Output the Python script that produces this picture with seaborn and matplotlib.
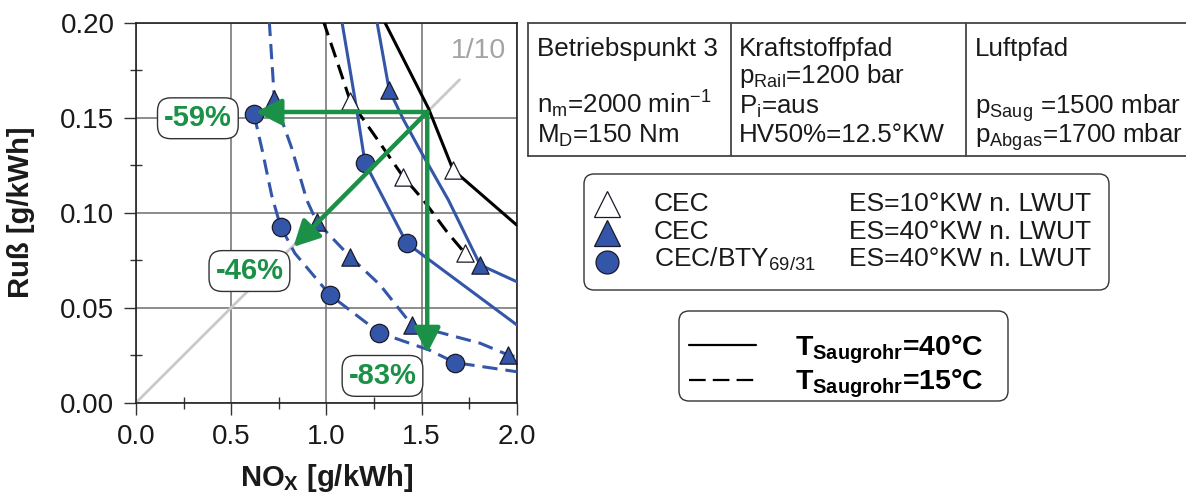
import numpy as np
import pandas as pd
import matplotlib
matplotlib.use("Agg")
import matplotlib.pyplot as plt
import seaborn as sns
from matplotlib.patches import FancyBboxPatch
from matplotlib.lines import Line2D
from matplotlib.ticker import MultipleLocator, FormatStrFormatter

# ---------------- data ----------------
# black solid: CEC, ES=10°KW, T=40°C
bs_x = [1.303, 1.536, 1.666, 2.0]
bs_y = [0.201, 0.155, 0.1225, 0.0935]
bs_m = [False, False, True, False]
# black dashed: CEC, ES=10°KW, T=15°C
bd_x = [0.984, 1.055, 1.125, 1.265, 1.403, 1.51, 1.633, 1.729]
bd_y = [0.201, 0.180, 0.159, 0.139, 0.119, 0.1066, 0.090, 0.0786]
bd_m = [False, False, True, False, True, False, False, True]
# blue solid, triangles: CEC, ES=40°KW, T=40°C
ts_x = [1.265, 1.33, 1.405, 1.492, 1.641, 1.808, 2.0]
ts_y = [0.201, 0.1646, 0.149, 0.133, 0.1067, 0.0725, 0.0637]
ts_m = [False, True, False, False, False, True, False]
# blue dashed, triangles: CEC, ES=40°KW, T=15°C
td_x = [0.70, 0.727, 0.818, 0.897, 0.949, 1.125, 1.282, 1.449, 1.808, 1.956, 2.0]
td_y = [0.201, 0.1597, 0.134, 0.1067, 0.0953, 0.0768, 0.062, 0.0409, 0.0313, 0.0251, 0.0240]
td_m = [False, True, False, False, True, True, False, True, False, True, False]
# blue solid, circles: CEC/BTY, ES=40°KW, T=40°C
cs_x = [1.081, 1.160, 1.203, 1.422, 2.0]
cs_y = [0.201, 0.154, 0.1263, 0.084, 0.041]
cs_m = [False, False, True, True, False]
# blue dashed, circles: CEC/BTY, ES=40°KW, T=15°C
cd_x = [0.62, 0.665, 0.713, 0.76, 0.835, 1.019, 1.279, 1.541, 1.676, 2.0]
cd_y = [0.1518, 0.132, 0.109, 0.0926, 0.0786, 0.0567, 0.0368, 0.0277, 0.0211, 0.0163]
cd_m = [True, False, False, True, False, True, True, False, True, False]

ratio_x = [0.0, 1.70]          # 1/10 line
ratio_y = [0.0, 0.170]

arrow_start = (1.53, 0.153)
arrow_end_x = [0.63, 0.827, 1.53]
arrow_end_y = [0.153, 0.082, 0.026]
pct_labels = ["-59%", "-46%", "-83%"]
pct_x = [0.325, 0.596, 1.295]
pct_y = [0.1497, 0.0693, 0.0141]

x_ticks = [0.0, 0.5, 1.0, 1.5, 2.0]
y_ticks = [0.00, 0.05, 0.10, 0.15, 0.20]

# ---------------- style ----------------
sns.set_style("white")
plt.rcParams["font.family"] = ["Liberation Sans", "DejaVu Sans"]
plt.rcParams["mathtext.fontset"] = "custom"
plt.rcParams["mathtext.rm"] = "Liberation Sans"
plt.rcParams["mathtext.it"] = "Liberation Sans:italic"
plt.rcParams["mathtext.bf"] = "Liberation Sans:bold"

BLUE = "#3456a9"
GREEN = "#1b9147"
EDGE = "#1a1a2a"
DASH = (0, (5, 2.6))

fig = plt.figure(figsize=(11.86, 4.95), dpi=100)
W, H = 1186, 495
ax = fig.add_axes([136 / W, (H - 402.7) / H, 380.7 / W, 380 / H])


def df_of(x, y, m):
    return pd.DataFrame({"nox": x, "soot": y, "marked": m})


series = [
    (df_of(bs_x, bs_y, bs_m), "black", "-", "^", "white"),
    (df_of(bd_x, bd_y, bd_m), "black", DASH, "^", "white"),
    (df_of(ts_x, ts_y, ts_m), BLUE, "-", "^", BLUE),
    (df_of(td_x, td_y, td_m), BLUE, DASH, "^", BLUE),
    (df_of(cs_x, cs_y, cs_m), BLUE, "-", "o", BLUE),
    (df_of(cd_x, cd_y, cd_m), BLUE, DASH, "o", BLUE),
]

# 1/10 line
sns.lineplot(x=ratio_x, y=ratio_y, ax=ax, color="#c9c9c9", lw=2.0,
             sort=False, estimator=None, legend=False, zorder=2)

for d, col, ls, mk, fc in series:
    sns.lineplot(data=d, x="nox", y="soot", ax=ax, color=col, linestyle=ls,
                 lw=2.2, sort=False, estimator=None, legend=False, zorder=3)
for d, col, ls, mk, fc in series:
    dm = d[d["marked"]]
    size = 155 if mk == "^" else 175
    sns.scatterplot(data=dm, x="nox", y="soot", ax=ax, marker=mk, s=size,
                    color=fc, edgecolor=EDGE, linewidth=0.9, legend=False, zorder=4)

# arrows
for ex, ey in zip(arrow_end_x, arrow_end_y):
    ax.annotate("", xy=(ex, ey), xytext=arrow_start,
                arrowprops=dict(arrowstyle="-|>,head_length=0.62,head_width=0.32",
                                color=GREEN, lw=3.2, mutation_scale=25,
                                shrinkA=0, shrinkB=0), zorder=5)

for lab, px, py in zip(pct_labels, pct_x, pct_y):
    ax.text(px, py, lab, color=GREEN, fontsize=21, fontweight="bold",
            ha="center", va="center", zorder=7,
            bbox=dict(boxstyle="round,pad=0.22,rounding_size=0.45",
                      fc="white", ec="#333333", lw=1.0))

ax.text(1.797, 0.185, "1/10", color="#a3a3a3", fontsize=20.5,
        ha="center", va="center", zorder=2)

# axes formatting
ax.set_xlim(0, 2)
ax.set_ylim(0, 0.2)
ax.set_xticks(x_ticks)
ax.set_yticks(y_ticks)
ax.xaxis.set_minor_locator(MultipleLocator(0.25))
ax.yaxis.set_minor_locator(MultipleLocator(0.025))
ax.xaxis.set_major_formatter(FormatStrFormatter("%.1f"))
ax.yaxis.set_major_formatter(FormatStrFormatter("%.2f"))
ax.tick_params(which="major", direction="out", length=8.5, width=1.0,
               color="#333333", labelsize=20, pad=7, labelcolor="#1a1a1a")
ax.tick_params(which="minor", direction="inout", length=8, width=1.0,
               color="#333333")
ax.tick_params(axis="x", which="both", bottom=True)
ax.tick_params(axis="y", which="both", left=True)
ax.grid(True, which="major", color="#6e6e6e", lw=1.1, zorder=0)
ax.set_axisbelow(True)
for sp in ax.spines.values():
    sp.set_color("#222222")
    sp.set_linewidth(1.2)

ax.set_ylabel("Ruß [g/kWh]", fontsize=21, fontweight="bold", color="#1a1a1a")
ax.set_xlabel(r"NO$_{\mathbf{X}}$ [g/kWh]", fontsize=21, fontweight="bold",
              color="#1a1a1a")
ax.yaxis.set_label_coords(-0.265, 0.5)
ax.xaxis.set_label_coords(0.5, -0.155)

# ---------------- annotations in pixel space ----------------
T = fig.dpi_scale_trans


def P(x, y):
    return (x / 100.0, (H - y) / 100.0)


def hline(x0, x1, y, **kw):
    fig.add_artist(Line2D([x0 / 100, x1 / 100], [(H - y) / 100] * 2, transform=T, **kw))


def vline(x, y0, y1, **kw):
    fig.add_artist(Line2D([x / 100] * 2, [(H - y0) / 100, (H - y1) / 100], transform=T, **kw))


tbl = dict(color="#444444", lw=1.3)
hline(528.4, 1186, 22.7, **tbl)
hline(528.4, 1186, 155.5, **tbl)
vline(528.4, 22.7, 155.5, **tbl)
vline(731, 22.7, 155.5, **tbl)
vline(966, 22.7, 155.5, **tbl)

TF = 18.7
TC = "#1a1a1a"
table_text = [
    (537, 55.5, "Betriebspunkt 3"),
    (537, 113.5, r"n$_{\mathrm{m}}$=2000 min$^{\mathrm{-1}}$"),
    (537, 142.5, r"M$_{\mathrm{D}}$=150 Nm"),
    (739, 55.5, "Kraftstoffpfad"),
    (739, 82.5, r"p$_{\mathrm{Rail}}$=1200 bar"),
    (739, 113.5, r"P$_{\mathrm{i}}$=aus"),
    (739, 142.5, "HV50%=12.5°KW"),
    (975, 55.5, "Luftpfad"),
    (975, 113.5, r"p$_{\mathrm{Saug}}$ =1500 mbar"),
    (975, 142.5, r"p$_{\mathrm{Abgas}}$=1700 mbar"),
]
for x, y, s in table_text:
    fig.text(*P(x, y), s, transform=T, fontsize=TF, color=TC,
             ha="left", va="baseline")

# legend 1
x0, y0 = P(584, 290)
fig.add_artist(FancyBboxPatch((x0, y0), 5.25, 1.16, transform=T,
                              boxstyle="round,pad=0,rounding_size=0.1",
                              fc="white", ec="#333333", lw=1.0))
leg_rows = [
    (204, 211, "^", "white", 19, "CEC", "ES=10°KW n. LWUT"),
    (233, 239, "^", BLUE, 19, "CEC", "ES=40°KW n. LWUT"),
    (262, 266.5, "o", BLUE, 16.5, r"CEC/BTY$_{\mathrm{69/31}}$", "ES=40°KW n. LWUT"),
]
for my, by, mk, fc, ms, a, b in leg_rows:
    fig.add_artist(Line2D([607 / 100], [(H - my) / 100], transform=T, marker=mk,
                          ms=ms, mfc=fc, mec=EDGE, mew=0.9, ls="none"))
    fig.text(*P(654, by), a, transform=T, fontsize=19, color=TC, va="baseline")
    fig.text(*P(849, by), b, transform=T, fontsize=19, color=TC, va="baseline")

# legend 2
x0, y0 = P(679, 401)
fig.add_artist(FancyBboxPatch((x0, y0), 3.29, 0.90, transform=T,
                              boxstyle="round,pad=0,rounding_size=0.1",
                              fc="white", ec="#333333", lw=1.0))
hline(689, 756, 345, color="black", lw=1.6)
hline(689, 756, 380, color="black", lw=1.6, linestyle=(0, (7.5, 3.2)))
fig.text(*P(795, 356), r"T$_{\mathbf{Saugrohr}}$=40°C", transform=T,
         fontsize=20.5, fontweight="bold", color="black", va="baseline")
fig.text(*P(795, 389), r"T$_{\mathbf{Saugrohr}}$=15°C", transform=T,
         fontsize=20.5, fontweight="bold", color="black", va="baseline")

fig.savefig("out.png", dpi=100)
